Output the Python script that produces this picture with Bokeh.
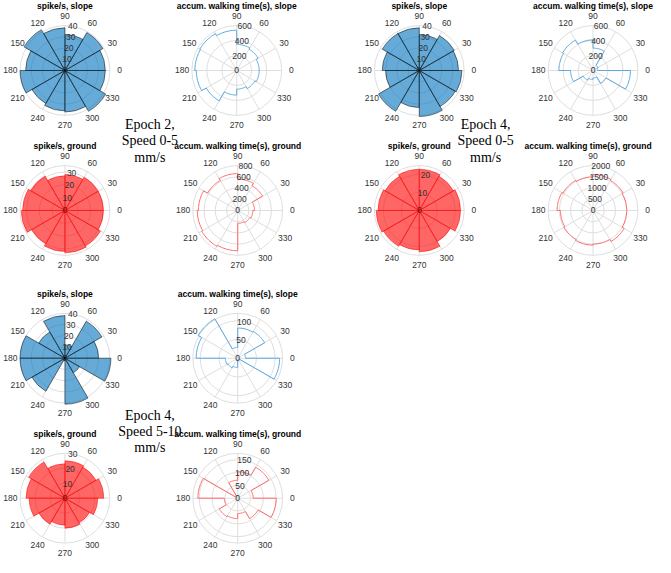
import numpy as np
from bokeh.plotting import figure
from bokeh.models import Range1d
from bokeh.embed import file_html
from bokeh.resources import INLINE
from bokeh.core.properties import value

# ---------------- data ----------------
bin_edges = [0, 30, 60, 90, 120, 150, 180, 210, 240, 270, 300, 330, 360]
theta_ticks = [0, 30, 60, 90, 120, 150, 180, 210, 240, 270, 300, 330]

# Epoch 2, speed 0-5
e2_spike_slope = [36, 39, 32, 38, 42, 35, 40, 34, 36, 37, 42, 36]
e2_time_slope = [300, 330, 350, 540, 570, 560, 540, 470, 330, 250, 280, 300]
e2_spike_ground = [30, 30, 28, 27, 31, 33, 34, 30, 32, 33, 32, 30]
e2_time_ground = [300, 510, 560, 660, 620, 700, 720, 740, 720, 230, 250, 270]
# Epoch 4, speed 0-5
e4a_spike_slope = [35, 36, 32, 38, 38, 33, 30, 42, 33, 41, 37, 38]
e4a_time_slope = [60, 80, 300, 410, 470, 456, 300, 150, 120, 100, 200, 500]
e4a_spike_ground = [23, 22, 23, 23, 22, 23, 24, 23, 22, 23, 20, 23]
e4a_time_ground = [1500, 1550, 1600, 1500, 1550, 1600, 1450, 1500, 1550, 1500, 1600, 1500]
# Epoch 4, speed 5-10
e4b_spike_slope = [30, 38, 12, 38, 27, 40, 40, 34, 2, 41, 15, 41]
e4b_time_slope = [21, 83, 81, 29, 122, 111, 33, 30, 25, 5, 5, 112]
e4b_spike_ground = [26, 24, 25, 23, 28, 26, 24, 20, 18, 20, 19, 22]
e4b_time_ground = [60, 140, 104, 70, 10, 155, 52, 83, 80, 60, 92, 150]

spike_slope_ticks = [0, 10, 20, 30, 40]
title_spike_slope = "spike/s, slope"
title_spike_ground = "spike/s, ground"
title_time_slope = "accum. walking time(s), slope"
title_time_ground = "accum. walking time(s), ground"
group_labels = [["Epoch 2,", "Speed 0-5", "mm/s"],
                ["Epoch 4,", "Speed 0-5", "mm/s"],
                ["Epoch 4,", "Speed 5-10", "mm/s"]]

# ---------------- layout / style ----------------
W, H = 655, 557          # figure size (fits the 671x573 window with 8px margin)
REF_W, REF_H = 671, 573  # coordinate frame used for placing panels
R = 46  # radius of each polar axis (frame units)
BLUE_FACE = (0, 114, 189)
RED_FACE = (255, 0, 0)
BLUE_LINE = "#5aa9e0"
RED_LINE = "#ff6a6a"
GRID = "#dedede"
TICK = "#333333"
SANS = "Liberation Sans"
SERIF = "Liberation Serif"

p = figure(width=W, height=H, output_backend="svg", toolbar_location=None,
           x_range=Range1d(0, REF_W), y_range=Range1d(0, REF_H),
           x_axis_type=None, y_axis_type=None, min_border=0)
p.outline_line_color = None
p.grid.visible = False
p.background_fill_color = "white"
p.border_fill_color = "white"


def Y(yimg):
    return REF_H - yimg


def polar_axes(cx, cy, rmax, rticks, title, title_dx=0):
    ccx, ccy = cx, Y(cy)
    s = R / rmax
    rings = [t for t in rticks if 0 < t < rmax] + [rmax]
    p.circle(x=[ccx] * len(rings), y=[ccy] * len(rings), radius=[t * s for t in rings],
             fill_color=None, line_color=GRID, line_width=1)
    xs, ys = [], []
    for a in theta_ticks:
        ar = np.deg2rad(a)
        xs.append([ccx, ccx + R * np.cos(ar)])
        ys.append([ccy, ccy + R * np.sin(ar)])
    p.multi_line(xs=xs, ys=ys, line_color=GRID, line_width=1)
    lx, ly = [], []
    for a in theta_ticks:
        ar = np.deg2rad(a)
        lx.append(ccx + (R + 10) * np.cos(ar))
        ly.append(ccy + (R + 10) * np.sin(ar))
    p.text(x=lx, y=ly, text=[str(a) for a in theta_ticks], text_align="center",
           text_baseline="middle", text_font=value(SANS), text_font_size=value("8.5px"),
           text_color=TICK)
    p.text(x=[ccx + title_dx], y=[ccy + R + 20], text=[title], text_align="center",
           text_baseline="middle", text_font=value(SANS), text_font_size=value("8.5px"),
           text_font_style="bold", text_color="black")


def r_labels(cx, cy, rmax, rticks):
    ccx, ccy = cx, Y(cy)
    s = R / rmax
    a = np.deg2rad(80)
    p.text(x=[ccx + t * s * np.cos(a) for t in rticks], y=[ccy + t * s * np.sin(a) for t in rticks],
           text=[str(t) for t in rticks], text_align="center", text_baseline="middle",
           text_font=value(SANS), text_font_size=value("8.5px"), text_color=TICK)


def bars(cx, cy, vals, rmax, rticks, title, face, edge):
    polar_axes(cx, cy, rmax, rticks, title)
    s = R / rmax
    n = len(vals)
    col = "#%02x%02x%02x" % face
    p.wedge(x=[cx] * n, y=[Y(cy)] * n, radius=[v * s for v in vals],
            start_angle=list(np.deg2rad(bin_edges[:-1])), end_angle=list(np.deg2rad(bin_edges[1:])),
            fill_color=col, fill_alpha=0.6, line_color=edge, line_alpha=0.6, line_width=0.8)
    r_labels(cx, cy, rmax, rticks)


def stairs(cx, cy, vals, rmax, rticks, title, color, title_dx=0):
    polar_axes(cx, cy, rmax, rticks, title, title_dx)
    s = R / rmax
    xs, ys = [], []
    for k, v in enumerate(vals):
        ang = np.deg2rad(np.linspace(bin_edges[k], bin_edges[k + 1], 16))
        xs.extend(cx + v * s * np.cos(ang))
        ys.extend(Y(cy) + v * s * np.sin(ang))
    xs.append(xs[0])
    ys.append(ys[0])
    p.line(x=xs, y=ys, line_color=color, line_width=1)
    r_labels(cx, cy, rmax, rticks)


# Group 1
bars(66, 72, e2_spike_slope, 40, spike_slope_ticks, title_spike_slope, BLUE_FACE, "black")
stairs(242, 72, e2_time_slope, 600, [0, 200, 400, 600], title_time_slope, BLUE_LINE)
bars(66, 216, e2_spike_ground, 35, [0, 10, 20, 30], title_spike_ground, RED_FACE, "red")
stairs(243, 216, e2_time_ground, 800, [0, 200, 400, 600, 800], title_time_ground, RED_LINE)
# Group 2
bars(429, 72, e4a_spike_slope, 40, spike_slope_ticks, title_spike_slope, BLUE_FACE, "black")
stairs(607, 72, e4a_time_slope, 600, [0, 200, 400, 600], title_time_slope, BLUE_LINE)
bars(429, 216, e4a_spike_ground, 25, [0, 10, 20], title_spike_ground, RED_FACE, "red")
stairs(607, 216, e4a_time_ground, 2000, [0, 500, 1000, 1500, 2000], title_time_ground, RED_LINE,
       title_dx=-5)
# Group 3
bars(66, 368, e4b_spike_slope, 40, spike_slope_ticks, title_spike_slope, BLUE_FACE, "black")
stairs(243, 368, e4b_time_slope, 120, [0, 50, 100], title_time_slope, BLUE_LINE)
bars(66, 512, e4b_spike_ground, 30, [0, 10, 20, 30], title_spike_ground, RED_FACE, "red")
stairs(243, 512, e4b_time_ground, 175, [0, 50, 100, 150], title_time_ground, RED_LINE)

for (gx, gy), lines in zip([(153, 128), (497, 128), (153, 427)], group_labels):
    p.text(x=[gx] * 3, y=[Y(gy), Y(gy + 16.5), Y(gy + 33)], text=lines, text_align="center",
           text_baseline="middle", text_font=value(SERIF), text_font_size=value("14px"),
           text_color="black")

open("out.html", "w").write(file_html(p, INLINE))
